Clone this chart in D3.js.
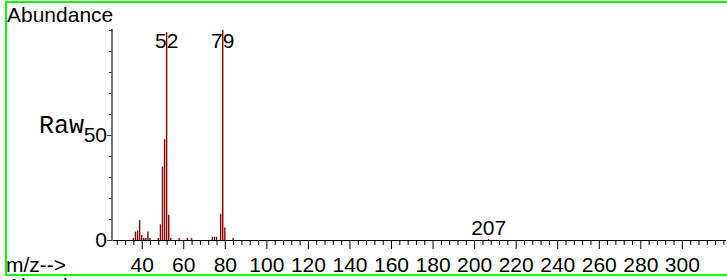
<!DOCTYPE html>
<meta charset="utf-8">
<style>
  body { margin: 0; background: #fff; }
  text { font-family: "Liberation Sans", Arial, sans-serif; }
</style>

<!-- Load d3.js -->
<script src="https://d3js.org/d3.v7.min.js"></script>

<div id="spectrum"></div>
<script>

// peaks (m/z, relative abundance %)
var mz    = [36, 37, 38, 39, 40, 41, 42, 43, 44, 48, 49, 50, 51, 52, 53, 54, 58, 62, 64, 74, 75, 76, 78, 79, 80, 84, 207];
var abund = [1, 4, 4.5, 9.5, 2.5, 1, 1, 4, 1, 1, 7.5, 35, 48, 99, 12, 1, 1, 1, 1, 1.5, 1.5, 1.5, 12.5, 100, 6, 1, 0.5];

// labelled peaks
var labelMz = [52, 79, 207];

// axis ticks
var xMajor = [40, 60, 80, 100, 120, 140, 160, 180, 200, 220, 240, 260, 280, 300];
var yMajor = [0, 50];

var width = 727, height = 280;
var fs = 21;

var svg = d3.select("#spectrum")
  .append("svg")
    .attr("width", width)
    .attr("height", height);

// green frame (right edge is off screen)
svg.append("rect")
  .attr("x", 6).attr("y", 2)
  .attr("width", 740).attr("height", 273)
  .attr("fill", "none")
  .attr("stroke", "#00ff00")
  .attr("stroke-width", 2);

var x = d3.scaleLinear()
  .domain([25.7, 321])
  .range([112, 725.5]);

var y = d3.scaleLinear()
  .domain([0, 100])
  .range([240, 30]);

// minor x ticks every 4
var xMinor = d3.range(28, 321, 4).filter(function(d) { return xMajor.indexOf(d) < 0; });
svg.append("g")
  .attr("transform", "translate(0,240)")
  .call(d3.axisBottom(x).tickValues(xMinor).tickSize(5).tickSizeOuter(0).tickFormat(""))
  .call(function(g) { g.selectAll("line,path").attr("stroke", "#000"); });

// major x ticks + labels
var gx = svg.append("g")
  .attr("transform", "translate(0,240)")
  .call(d3.axisBottom(x).tickValues(xMajor).tickSize(9).tickSizeOuter(0).tickPadding(8));
gx.select(".domain").remove();
gx.selectAll("line").attr("stroke", "#000");
gx.selectAll("text")
  .attr("font-size", fs)
  .attr("font-family", "Liberation Sans, Arial, sans-serif")
  .attr("fill", "#000");

// y axis, minor ticks every 10
svg.append("g")
  .attr("transform", "translate(112,0)")
  .call(d3.axisLeft(y).tickValues(d3.range(0, 101, 10)).tickSize(3).tickSizeOuter(0).tickFormat(""))
  .call(function(g) {
    g.select(".domain").attr("stroke", "#444").attr("stroke-width", 1.5)
      .attr("d", "M0," + y(0) + "V29");
    g.selectAll("line").attr("stroke", "#444");
  });

var gy = svg.append("g")
  .attr("transform", "translate(112,0)")
  .call(d3.axisLeft(y).tickValues(yMajor).tickSize(5).tickSizeOuter(0).tickPadding(0));
gy.select(".domain").remove();
gy.selectAll("line").attr("stroke", "#444");
gy.selectAll("text")
  .attr("font-size", fs)
  .attr("font-family", "Liberation Sans, Arial, sans-serif")
  .attr("fill", "#000");

// peaks
svg.selectAll("line.peak")
  .data(mz)
  .enter()
  .append("line")
    .attr("class", "peak")
    .attr("x1", function(d) { return x(d); })
    .attr("x2", function(d) { return x(d); })
    .attr("y1", y(0))
    .attr("y2", function(d, i) { return y(abund[i]); })
    .attr("stroke", "#8b0000")
    .attr("stroke-width", 1.4);

// peak labels
svg.selectAll("text.plab")
  .data(labelMz)
  .enter()
  .append("text")
    .attr("class", "plab")
    .attr("x", function(d) { return x(d); })
    .attr("y", function(d) { return d == 207 ? 235 : 48; })
    .attr("text-anchor", "middle")
    .attr("font-size", fs)
    .text(function(d) { return d; });

// titles
svg.append("text")
  .attr("x", 7).attr("y", 22)
  .attr("font-size", fs)
  .text("Abundance");

svg.append("text")
  .attr("x", 6).attr("y", 272)
  .attr("font-size", fs)
  .text("m/z-->");

svg.append("text")
  .attr("x", 39).attr("y", 133)
  .style("font-family", "'Liberation Mono', 'Courier New', monospace")
  .attr("font-size", 25)
  .text("Raw");

// next panel title, cut off by the window
svg.append("text")
  .attr("x", 7).attr("y", 293)
  .attr("font-size", fs)
  .text("Abundance");

</script>
